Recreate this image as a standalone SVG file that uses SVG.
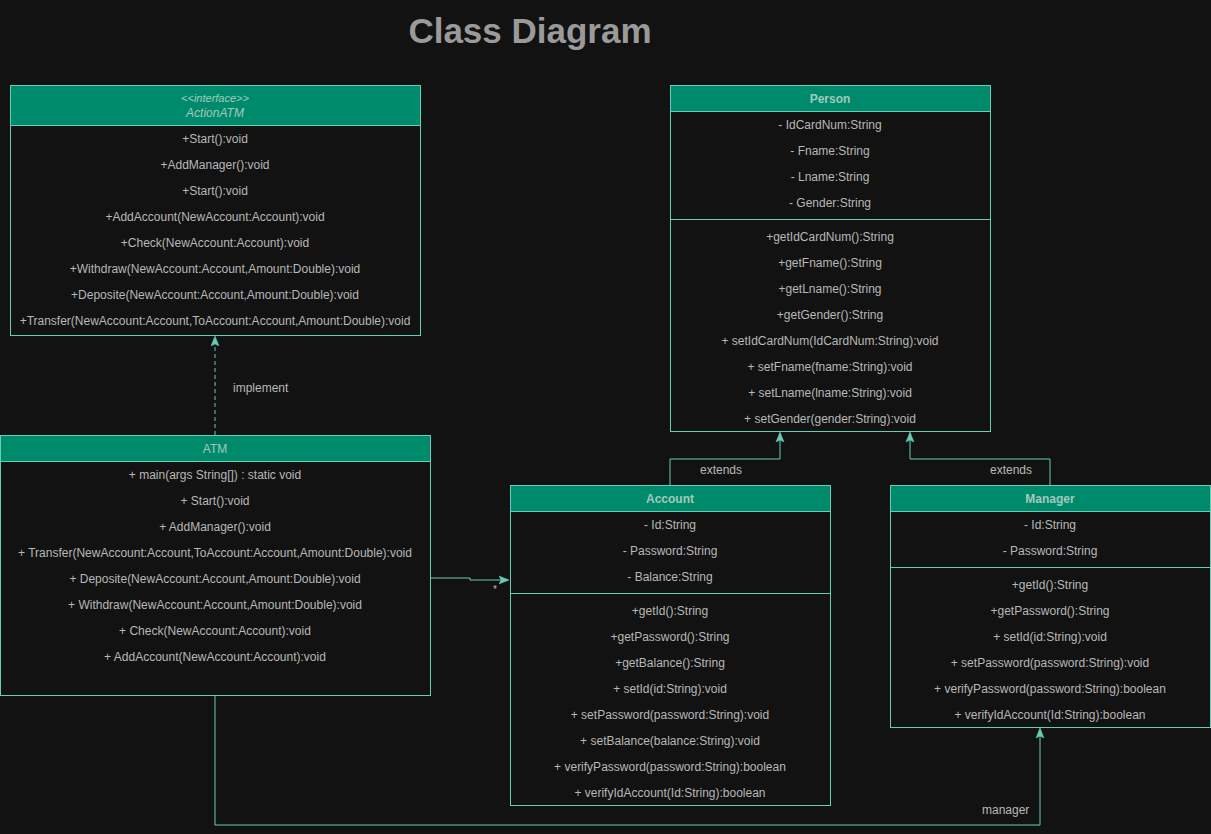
<svg xmlns="http://www.w3.org/2000/svg" width="1211" height="834" viewBox="0 0 1211 834">
<defs>
<style>
.bg{fill:#121212}
.box{fill:#121212;stroke:#67CDB4;stroke-width:1}
.hd{fill:#008A6C;stroke:#67CDB4;stroke-width:1}
.dv{stroke:#67CDB4;stroke-width:1;fill:none}
.t{font-family:"Liberation Sans",Arial,sans-serif;font-size:12px;fill:#B8B8B8;text-anchor:middle}
.h{font-family:"Liberation Sans",Arial,sans-serif;font-size:12px;fill:#A3C9BD;text-anchor:middle}
.hb{font-weight:bold}
.hi{font-style:italic}
.lbl{font-family:"Liberation Sans",Arial,sans-serif;font-size:12px;fill:#B8B8B8}
.c{stroke:#67CDB4;stroke-width:1;fill:none}
.title{font-family:"Liberation Sans",Arial,sans-serif;font-size:35px;font-weight:bold;fill:#9A9A9A;text-anchor:middle}
</style>
<marker id="arr" viewBox="0 0 10 10" refX="9" refY="5" markerWidth="10" markerHeight="10" markerUnits="userSpaceOnUse" orient="auto">
<path d="M0,1 L10,5 L0,9 L2,5 Z" fill="#67CDB4" stroke="#67CDB4" stroke-width="0.5"/>
</marker>
</defs>
<rect class="bg" x="0" y="0" width="1211" height="834"/>
<text class="title" x="530" y="43">Class Diagram</text>

<g id="connectors">
<path class="c" d="M215,435 L215,337" stroke-dasharray="4,3" marker-end="url(#arr)"/>
<text class="lbl" x="233" y="392">implement</text>
<path class="c" d="M670,485 L670,459 L780,459 L780,433" marker-end="url(#arr)"/>
<text class="lbl" x="700" y="474">extends</text>
<path class="c" d="M1050,485 L1050,459 L910,459 L910,433" marker-end="url(#arr)"/>
<text class="lbl" x="990" y="474">extends</text>
<path class="c" d="M430,578 L470,578 L470,580 L508,580" marker-end="url(#arr)"/>
<text class="lbl" x="493" y="593" style="font-size:10px">*</text>
<path class="c" d="M215,695 L215,825 L1040,825 L1040,729" marker-end="url(#arr)"/>
<text class="lbl" x="982" y="814">manager</text>
</g>

<g id="ActionATM">
<rect class="box" x="10.5" y="85.5" width="410" height="250"/>
<rect class="hd" x="10.5" y="85.5" width="410" height="40"/>
<text class="h hi" x="215" y="102" style="font-size:11px">&lt;&lt;interface&gt;&gt;</text>
<text class="h hi" x="215" y="117">ActionATM</text>
<text class="t" x="215" y="143">+Start():void</text>
<text class="t" x="215" y="169">+AddManager():void</text>
<text class="t" x="215" y="195">+Start():void</text>
<text class="t" x="215" y="221">+AddAccount(NewAccount:Account):void</text>
<text class="t" x="215" y="247">+Check(NewAccount:Account):void</text>
<text class="t" x="215" y="273">+Withdraw(NewAccount:Account,Amount:Double):void</text>
<text class="t" x="215" y="299">+Deposite(NewAccount:Account,Amount:Double):void</text>
<text class="t" x="215" y="325">+Transfer(NewAccount:Account,ToAccount:Account,Amount:Double):void</text>
</g>

<g id="ATM">
<rect class="box" x="0.5" y="435.5" width="430" height="260"/>
<rect class="hd" x="0.5" y="435.5" width="430" height="26"/>
<text class="h" x="215" y="453">ATM</text>
<text class="t" x="215" y="479">+ main(args String[]) : static void</text>
<text class="t" x="215" y="505">+ Start():void</text>
<text class="t" x="215" y="531">+ AddManager():void</text>
<text class="t" x="215" y="557">+ Transfer(NewAccount:Account,ToAccount:Account,Amount:Double):void</text>
<text class="t" x="215" y="583">+ Deposite(NewAccount:Account,Amount:Double):void</text>
<text class="t" x="215" y="609">+ Withdraw(NewAccount:Account,Amount:Double):void</text>
<text class="t" x="215" y="635">+ Check(NewAccount:Account):void</text>
<text class="t" x="215" y="661">+ AddAccount(NewAccount:Account):void</text>
</g>

<g id="Person">
<rect class="box" x="670.5" y="85.5" width="320" height="346"/>
<rect class="hd" x="670.5" y="85.5" width="320" height="26"/>
<text class="h hb" x="830" y="103">Person</text>
<text class="t" x="830" y="129">- IdCardNum:String</text>
<text class="t" x="830" y="155">- Fname:String</text>
<text class="t" x="830" y="181">- Lname:String</text>
<text class="t" x="830" y="207">- Gender:String</text>
<line class="dv" x1="670.5" y1="219.5" x2="990.5" y2="219.5"/>
<text class="t" x="830" y="241">+getIdCardNum():String</text>
<text class="t" x="830" y="267">+getFname():String</text>
<text class="t" x="830" y="293">+getLname():String</text>
<text class="t" x="830" y="319">+getGender():String</text>
<text class="t" x="830" y="345">+ setIdCardNum(IdCardNum:String):void</text>
<text class="t" x="830" y="371">+ setFname(fname:String):void</text>
<text class="t" x="830" y="397">+ setLname(lname:String):void</text>
<text class="t" x="830" y="423">+ setGender(gender:String):void</text>
</g>

<g id="Account">
<rect class="box" x="510.5" y="485.5" width="320" height="320"/>
<rect class="hd" x="510.5" y="485.5" width="320" height="26"/>
<text class="h hb" x="670" y="503">Account</text>
<text class="t" x="670" y="529">- Id:String</text>
<text class="t" x="670" y="555">- Password:String</text>
<text class="t" x="670" y="581">- Balance:String</text>
<line class="dv" x1="510.5" y1="593.5" x2="830.5" y2="593.5"/>
<text class="t" x="670" y="615">+getId():String</text>
<text class="t" x="670" y="641">+getPassword():String</text>
<text class="t" x="670" y="667">+getBalance():String</text>
<text class="t" x="670" y="693">+ setId(id:String):void</text>
<text class="t" x="670" y="719">+ setPassword(password:String):void</text>
<text class="t" x="670" y="745">+ setBalance(balance:String):void</text>
<text class="t" x="670" y="771">+ verifyPassword(password:String):boolean</text>
<text class="t" x="670" y="797">+ verifyIdAccount(Id:String):boolean</text>
</g>

<g id="Manager">
<rect class="box" x="890.5" y="485.5" width="320" height="242"/>
<rect class="hd" x="890.5" y="485.5" width="320" height="26"/>
<text class="h hb" x="1050" y="503">Manager</text>
<text class="t" x="1050" y="529">- Id:String</text>
<text class="t" x="1050" y="555">- Password:String</text>
<line class="dv" x1="890.5" y1="567.5" x2="1210.5" y2="567.5"/>
<text class="t" x="1050" y="589">+getId():String</text>
<text class="t" x="1050" y="615">+getPassword():String</text>
<text class="t" x="1050" y="641">+ setId(id:String):void</text>
<text class="t" x="1050" y="667">+ setPassword(password:String):void</text>
<text class="t" x="1050" y="693">+ verifyPassword(password:String):boolean</text>
<text class="t" x="1050" y="719">+ verifyIdAccount(Id:String):boolean</text>
</g>
</svg>
